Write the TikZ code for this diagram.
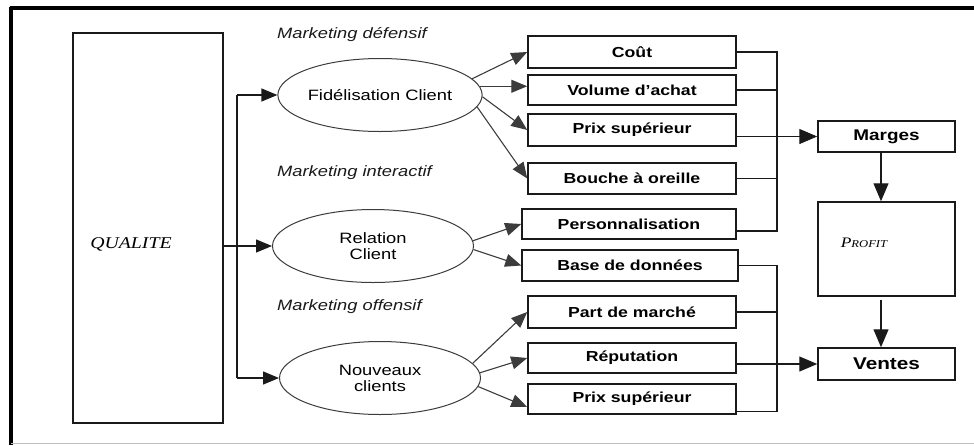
\documentclass[tikz,border=0pt]{standalone}
\usepackage{fontspec}
\setmainfont{Liberation Sans}[FakeStretch=1.22]
\newfontfamily\serifit{Liberation Serif}[FakeStretch=1.2]
\usetikzlibrary{arrows.meta,shapes.geometric,calc}
\definecolor{ink}{HTML}{1A1A1A}
\definecolor{soft}{HTML}{3C3C3C}
\begin{document}
\begin{tikzpicture}[x=1pt,y=-1pt,
  box/.style={draw=ink,line width=1.5pt,inner sep=0pt,font=\fontsize{14.5}{16}\selectfont\bfseries},
  ell/.style={ellipse,draw=soft,line width=1pt,minimum width=201pt,minimum height=73pt,inner sep=0pt,align=center,font=\fontsize{15}{16}\selectfont},
  mlabel/.style={anchor=west,inner sep=0pt,font=\fontsize{15}{16}\selectfont\itshape,text=ink},
  conn/.style={draw=ink,line width=1.3pt},
  sconn/.style={draw=soft,line width=1.1pt},
  arr/.style={-{Triangle[length=16pt,width=13pt]}},
  barr/.style={-{Triangle[length=18pt,width=15pt]}}]
\useasboundingbox (0,0) rectangle (974,445);
% frame
\draw[line width=3.5pt,black] (10,8) -- (974,8);
\draw[line width=3.5pt,black] (11,6.5) -- (11,445);
\draw[line width=1pt,black!25] (11,443.5) -- (974,443.5);
% left box
\node[box,minimum width=150pt,minimum height=390pt] (qual) at (148,228) {};
\node[inner sep=0pt,font=\serifit\fontsize{16.5}{16}\selectfont\itshape] (qualtxt) at (131,244) {QUALITE};
% ellipses
\node[ell] (fid) at (380,95) {Fidélisation Client};
\node[ell] (rel) at (373,246) {Relation\\Client};
\node[ell] (nou) at (380,378) {Nouveaux\\clients};
% marketing labels
\node[mlabel] (m1) at (277,35) {Marketing défensif};
\node[mlabel] (m2) at (277,173) {Marketing interactif};
\node[mlabel] (m3) at (277,307) {Marketing offensif};
% middle boxes
\node[box,minimum width=208pt,minimum height=32pt] (cout) at (632,52) {Coût};
\node[box,minimum width=208pt,minimum height=30pt] (vol) at (632,90) {Volume d'achat};
\node[box,minimum width=208pt,minimum height=32pt] (ps1) at (632,130) {Prix supérieur};
\node[box,minimum width=208pt,minimum height=31pt] (bo) at (632,178.5) {Bouche à oreille};
\node[box,minimum width=214pt,minimum height=30pt] (pers) at (629,224) {Personnalisation};
\node[box,minimum width=216pt,minimum height=31pt] (bdd) at (630,265.5) {Base de données};
\node[box,minimum width=208pt,minimum height=32pt] (part) at (632,312) {Part de marché};
\node[box,minimum width=208pt,minimum height=30pt] (rep) at (632,358) {Réputation};
\node[box,minimum width=208pt,minimum height=30pt] (ps2) at (632,399) {Prix supérieur};
% right boxes
\node[box,minimum width=137pt,minimum height=31pt,font=\fontsize{15.5}{16}\selectfont\bfseries] (marges) at (886.5,136.5) {Marges};
\node[box,minimum width=137pt,minimum height=94pt] (profit) at (886.5,249) {};
\node[inner sep=0pt,font=\serifit\itshape] (proftxt) at (864,243) {{\fontsize{14.5}{16}\selectfont P}{\fontsize{10.5}{16}\selectfont ROFIT}};
\node[box,minimum width=137pt,minimum height=32pt,font=\fontsize{17}{18}\selectfont\bfseries] (ventes) at (886.5,364) {Ventes};
% trunk from QUALITE
\coordinate (tr) at (237,0);
\draw[conn] (tr |- fid.west) -- (tr |- nou.west);
\draw[conn,arr] (tr |- fid.west) -- (fid.west);
\draw[conn,arr] (tr |- nou.west) -- (nou.west);
\draw[conn,arr] (qual.east |- rel.west) -- (rel.west);
% from ellipses
\draw[sconn,arr] (fid.10) -- (cout.west);
\draw[sconn,arr] (fid.5) -- (fid.5 -| vol.west);
\draw[sconn,arr] (fid.-1) -- (ps1.west);
\draw[sconn,arr] (fid.-7) -- (bo.west);
\draw[sconn,arr] (rel.3) -- (pers.west);
\draw[sconn,arr] (rel.-2) -- (bdd.west);
\draw[sconn,arr] (nou.9) -- (part.west);
\draw[sconn,arr] (nou.3) -- (rep.west);
\draw[sconn,arr] (nou.-5) -- ($(ps2.west)+(0,8)$);
% upper collector
\coordinate (c1) at (777,0);
\draw[conn] (cout.east) -- (cout.east -| c1) -- ($(pers.east -| c1)+(0,7)$) -- ($(pers.east)+(0,7)$);
\draw[conn] (vol.east) -- (vol.east -| c1);
\draw[conn] (bo.east) -- (bo.east -| c1);
% lower collector
\draw[conn] (bdd.east) -- (bdd.east -| c1) -- ($(ps2.south -| c1)+(0,-3)$) -- ($(ps2.south east)+(0,-3)$);
\draw[conn] (part.east) -- (part.east -| c1);
% to marges / ventes
\draw[conn,barr] (marges.west -| ps1.east) -- (marges.west);
\draw[conn,barr] (ventes.west -| rep.east) -- (ventes.west);
\draw[conn,barr] (marges.south -| 881,0) -- (profit.north -| 881,0);
\draw[conn,barr] ($(profit.south -| 881,0)+(0,3)$) -- (ventes.north -| 881,0);
\end{tikzpicture}
\end{document}
